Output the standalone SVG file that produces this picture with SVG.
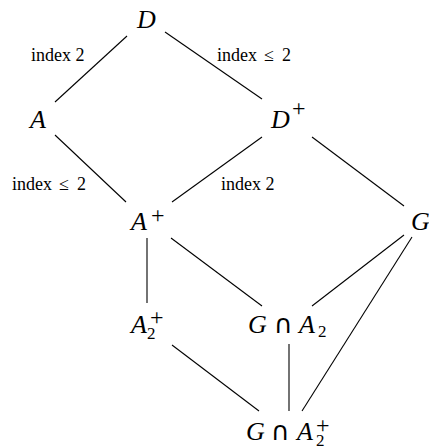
<svg xmlns="http://www.w3.org/2000/svg" width="429" height="448" viewBox="0 0 429 448">
<style>
.m{font-family:"Liberation Serif","Times New Roman","DejaVu Serif",serif;font-size:26px;font-style:italic;fill:#000}
.u{font-family:"DejaVu Sans",sans-serif;font-style:normal;font-size:26px}
.p{font-style:normal;font-size:24px}
.s{font-style:normal;font-size:17px}
.l{font-family:"Liberation Serif","Times New Roman","DejaVu Serif",serif;font-size:18px;fill:#000}
.e line{stroke:#000;stroke-width:1.1}
</style>
<rect width="429" height="448" fill="#fff"/>
<g id="connectors" class="e">
<line x1="127" y1="36" x2="55" y2="102"/>
<line x1="165" y1="32" x2="262" y2="99"/>
<line x1="55" y1="135" x2="126" y2="202"/>
<line x1="262" y1="137" x2="172" y2="202"/>
<line x1="312" y1="137" x2="404" y2="206"/>
<line x1="147" y1="238" x2="147" y2="303"/>
<line x1="171" y1="238" x2="262" y2="306"/>
<line x1="404" y1="235" x2="312" y2="306"/>
<line x1="412" y1="237" x2="302" y2="411"/>
<line x1="172" y1="345" x2="259" y2="411"/>
<line x1="289" y1="344" x2="289" y2="411"/>
</g>
<g id="labels" class="l">
<text x="31" y="61">index 2</text>
<text y="61"><tspan x="217">index</tspan><tspan x="264">≤</tspan><tspan x="282">2</tspan></text>
<text y="190"><tspan x="12">index</tspan><tspan x="59">≤</tspan><tspan x="77">2</tspan></text>
<text x="221" y="190">index 2</text>
</g>
<g id="D"><text class="m" x="137" y="28">D</text></g>
<g id="A"><text class="m" x="30" y="128">A</text></g>
<g id="Dplus"><text class="m"><tspan x="271" y="128">D</tspan><tspan class="p" x="292" y="116">+</tspan></text></g>
<g id="Aplus"><text class="m"><tspan x="131" y="230">A</tspan><tspan class="p" x="151" y="223">+</tspan></text></g>
<g id="G"><text class="m" x="411" y="230">G</text></g>
<g id="A2plus"><text class="m"><tspan x="131" y="333">A</tspan><tspan class="p" x="150" y="325">+</tspan><tspan class="s" x="147" y="339">2</tspan></text></g>
<g id="GcapA2"><text class="m"><tspan x="248" y="333">G</tspan><tspan class="u" x="274">∩</tspan><tspan x="299">A</tspan><tspan class="s" x="318" y="337">2</tspan></text></g>
<g id="GcapA2plus"><text class="m"><tspan x="246" y="440">G</tspan><tspan class="u" x="271">∩</tspan><tspan x="297">A</tspan><tspan class="p" x="316" y="433">+</tspan><tspan class="s" x="316" y="446">2</tspan></text></g>
</svg>
